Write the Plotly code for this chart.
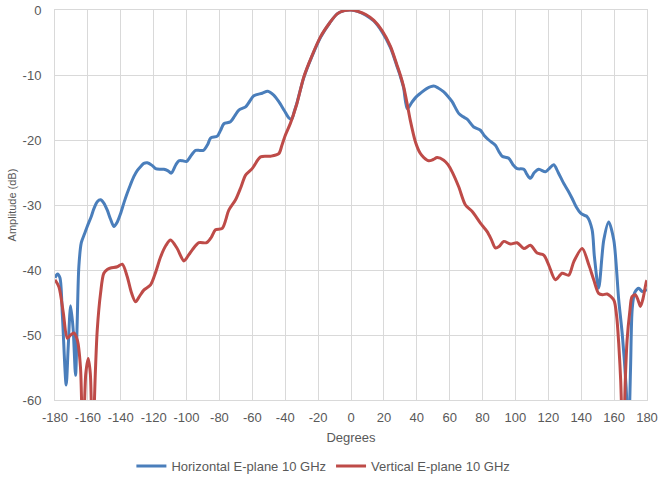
import plotly.graph_objects as go

# Horizontal E-plane 10 GHz
h_deg = [-180, -178.5, -177, -175.5, -173.2, -172, -170.5, -169, -167.5, -166.5, -165.5, -164, -162,
         -160.4, -158, -156.4, -154.3, -152.3, -150.3, -148.2, -146.2, -144.2, -142.1, -140.1, -138, -136.1,
         -134, -132, -130, -128, -126, -123.9, -121, -118.8, -116, -113.8, -111.5, -109.3, -106.5, -104.7,
         -102.4, -100, -97, -94.5, -92, -89.8, -87, -85.4, -81.3, -79.3, -77.3, -73.3, -70.7, -68.2, -64.1,
         -61.5, -59.1, -54, -50.6, -47, -43.9, -40.5, -37.8, -36.1, -34.5, -33, -28.7, -24, -18.5, -13,
         -8.4, -4, 0, 4, 9, 13.9, 19, 24, 28, 30, 32, 34.2, 37, 39.5, 42.3, 46, 50.3, 53, 56.4, 59, 61.5,
         65.5, 68, 70.6, 74.6, 78.7, 81, 83.8, 87.8, 90, 91.9, 95.9, 98.5, 101, 105.1, 107, 109.1, 111.5,
         114.2, 118.2, 120.5, 123.3, 126, 129.4, 132, 134.5, 137, 139.5, 142, 143.6, 146.6, 148, 150.6,
         153.7, 156.7, 159.8, 162.8, 165, 167.3, 168.7, 170, 171, 172.5, 175, 177, 180]
h_db = [-41.2, -40.6, -41.2, -47, -57.7, -52, -45.5, -49, -56.2, -48, -39.5, -35.8, -34.4,
        -33.3, -31.8, -30.6, -29.5, -29.2, -29.7, -30.8, -32.2, -33.3, -32.6, -31.3, -29.6, -28.2,
        -26.8, -25.6, -24.7, -24.1, -23.6, -23.5, -23.9, -24.4, -24.5, -24.5, -24.7, -25.1, -23.8, -23.2,
        -23.2, -23.3, -22.3, -21.6, -21.6, -21.6, -20.6, -19.7, -19.4, -18.5, -17.5, -17.2, -16.3, -15.4, -14.9,
        -14.0, -13.2, -12.8, -12.5, -13.1, -14.1, -15.5, -16.6, -16.8, -15.6, -14.4, -10.4, -7.3, -4.2, -2.0,
        -0.6, -0.1, 0, -0.2, -0.8, -1.7, -3.4, -5.8, -8.7, -10.2, -12, -15.2, -14.2, -13.4, -12.8, -12.1, -11.7, -12, -12.6, -13.3, -14.1,
        -15.9, -16.4, -16.8, -18, -18.5, -19.3, -20, -20.8, -21.8, -22.5, -22.8, -23.8, -24.4, -24.5, -25.3, -25.9, -25,
        -24.5, -24.9, -24.4, -23.8, -25, -26.7, -27.8, -29, -30.3, -31.2, -31.6, -31.8, -33.8, -37.9, -42.8,
        -35.4, -32.6, -35.4, -44.6, -50, -58, -66, -55, -46, -43.5, -42.8, -43.3, -43]

# Vertical E-plane 10 GHz
v_deg = [-180, -177.6, -175, -172.5, -170.5, -168.5, -166.4, -164.5, -163, -161.3, -159.8, -158.5, -157.2,
         -155.5, -154.3, -152.3, -150.3, -148, -146.2, -142.1, -139.1, -136.1, -133.5, -131, -128.5, -126,
         -121.9, -119, -115.8, -112.5, -109.7, -105.7, -101.6, -99, -96.5, -92.5, -87.8, -85, -82.4, -78.3,
         -74.3, -70.2, -67, -64.1, -60.1, -55, -48.9, -43.9, -42, -40, -36.8, -33, -28.7, -24, -18.5, -13,
         -8.4, -4, 0, 4, 9, 13.9, 19, 24, 28, 30, 32, 34.2, 36, 39.2, 42, 44.3, 47.3, 50, 52.4, 56.4, 59,
         61.5, 65.5, 69.6, 73.7, 76, 78.7, 82.8, 85.5, 87.8, 90, 92.9, 97, 101, 105.1, 109.1, 113.2, 117.2,
         120.2, 124.3, 128.4, 132.4, 135.5, 140.6, 144.6, 147.6, 150.6, 153, 155.8, 159.8, 161.5, 162.8,
         164, 165.5, 166.8, 167.9, 169.5, 170.9, 172.9, 174.5, 176, 177.5, 179.6, 180]
v_db = [-41.5, -42.6, -46.5, -50.5, -50, -49.7, -50.8, -55, -68, -56, -53.6, -56, -68,
        -56, -49.2, -43.6, -40.5, -39.9, -39.7, -39.5, -39.1, -41, -43.5, -44.9, -44, -43.1,
        -42.3, -40.5, -38, -36.2, -35.4, -36.7, -38.6, -37.8, -36.9, -35.8, -35.8, -35, -33.8, -33.6,
        -30.8, -29.2, -27.3, -25.4, -24.4, -22.6, -22.5, -22.1, -20.8, -19.3, -17.4, -14.5, -10.3, -7.2, -4.1, -2.0,
        -0.6, -0.1, 0, -0.2, -0.7, -1.6, -3.2, -5.6, -8.5, -10, -11.8, -14.5, -16.9, -20.3, -22, -22.7, -23.2, -23, -22.7, -23.1, -23.8,
        -24.9, -27.2, -30, -31, -31.8, -32.8, -34.1, -35.4, -36.6, -36.4, -35.6, -36, -35.8, -36.7, -36.2, -37.4, -37.7,
        -39.2, -41.5, -40.5, -40.8, -38.7, -36.7, -39.2, -41.5, -43.6, -43.8, -43.7, -44.6, -47, -51.3,
        -57, -68, -57, -50.8, -46.5, -44.1, -43.8, -44.6, -45.6, -44.5, -41.8, -41.6]

x_ticks = list(range(-180, 181, 20))
x_labels = [str(v) for v in x_ticks]
y_ticks = list(range(-60, 1, 10))
y_labels = [str(v) for v in y_ticks]

font_family = "Liberation Sans, Arial, sans-serif"
text_color = "#595959"
grid_color = "#d9d9d9"

fig_w, fig_h = 660, 479

fig = go.Figure()
fig.add_trace(go.Scatter(x=h_deg, y=h_db, mode="lines", name="Horizontal E-plane 10 GHz",
                         line=dict(color="#4a7ebb", width=3, shape="spline", smoothing=0.8)))
fig.add_trace(go.Scatter(x=v_deg, y=v_db, mode="lines", name="Vertical E-plane 10 GHz",
                         line=dict(color="#be4b48", width=3, shape="spline", smoothing=0.8)))

fig.update_layout(
    width=fig_w, height=fig_h,
    margin=dict(l=55, r=13, t=10, b=79),
    paper_bgcolor="white", plot_bgcolor="white",
    font=dict(family=font_family, size=13, color=text_color),
    showlegend=True,
    legend=dict(orientation="h", xref="container", yref="container",
                x=0.49, xanchor="center", y=13 / fig_h, yanchor="middle",
                font=dict(size=13, color=text_color), itemwidth=30),
    xaxis=dict(range=[-180, 180], tickvals=x_ticks, ticktext=x_labels, automargin=False,
               showgrid=True, gridcolor=grid_color, gridwidth=1, zeroline=False,
               showline=True, linecolor=grid_color, mirror=True, ticks="", ticklabelstandoff=5,
               ticklabeloverflow="allow",
               title=dict(text="Degrees", font=dict(size=13, color=text_color), standoff=9)),
    yaxis=dict(range=[-60, 0], tickvals=y_ticks, ticktext=y_labels, automargin=False,
               showgrid=True, gridcolor=grid_color, gridwidth=1, zeroline=False,
               showline=True, linecolor=grid_color, mirror=True, ticks="", ticklabelstandoff=10,
               ticklabeloverflow="allow",
               title=dict(text="Amplitude (dB)", font=dict(size=11, color=text_color), standoff=3)),
)

# Remove the browser's default page margin so the figure fills the window exactly.
fig.write_html("out.html", config={"displayModeBar": False},
               post_script="document.body.style.margin='0px';")
